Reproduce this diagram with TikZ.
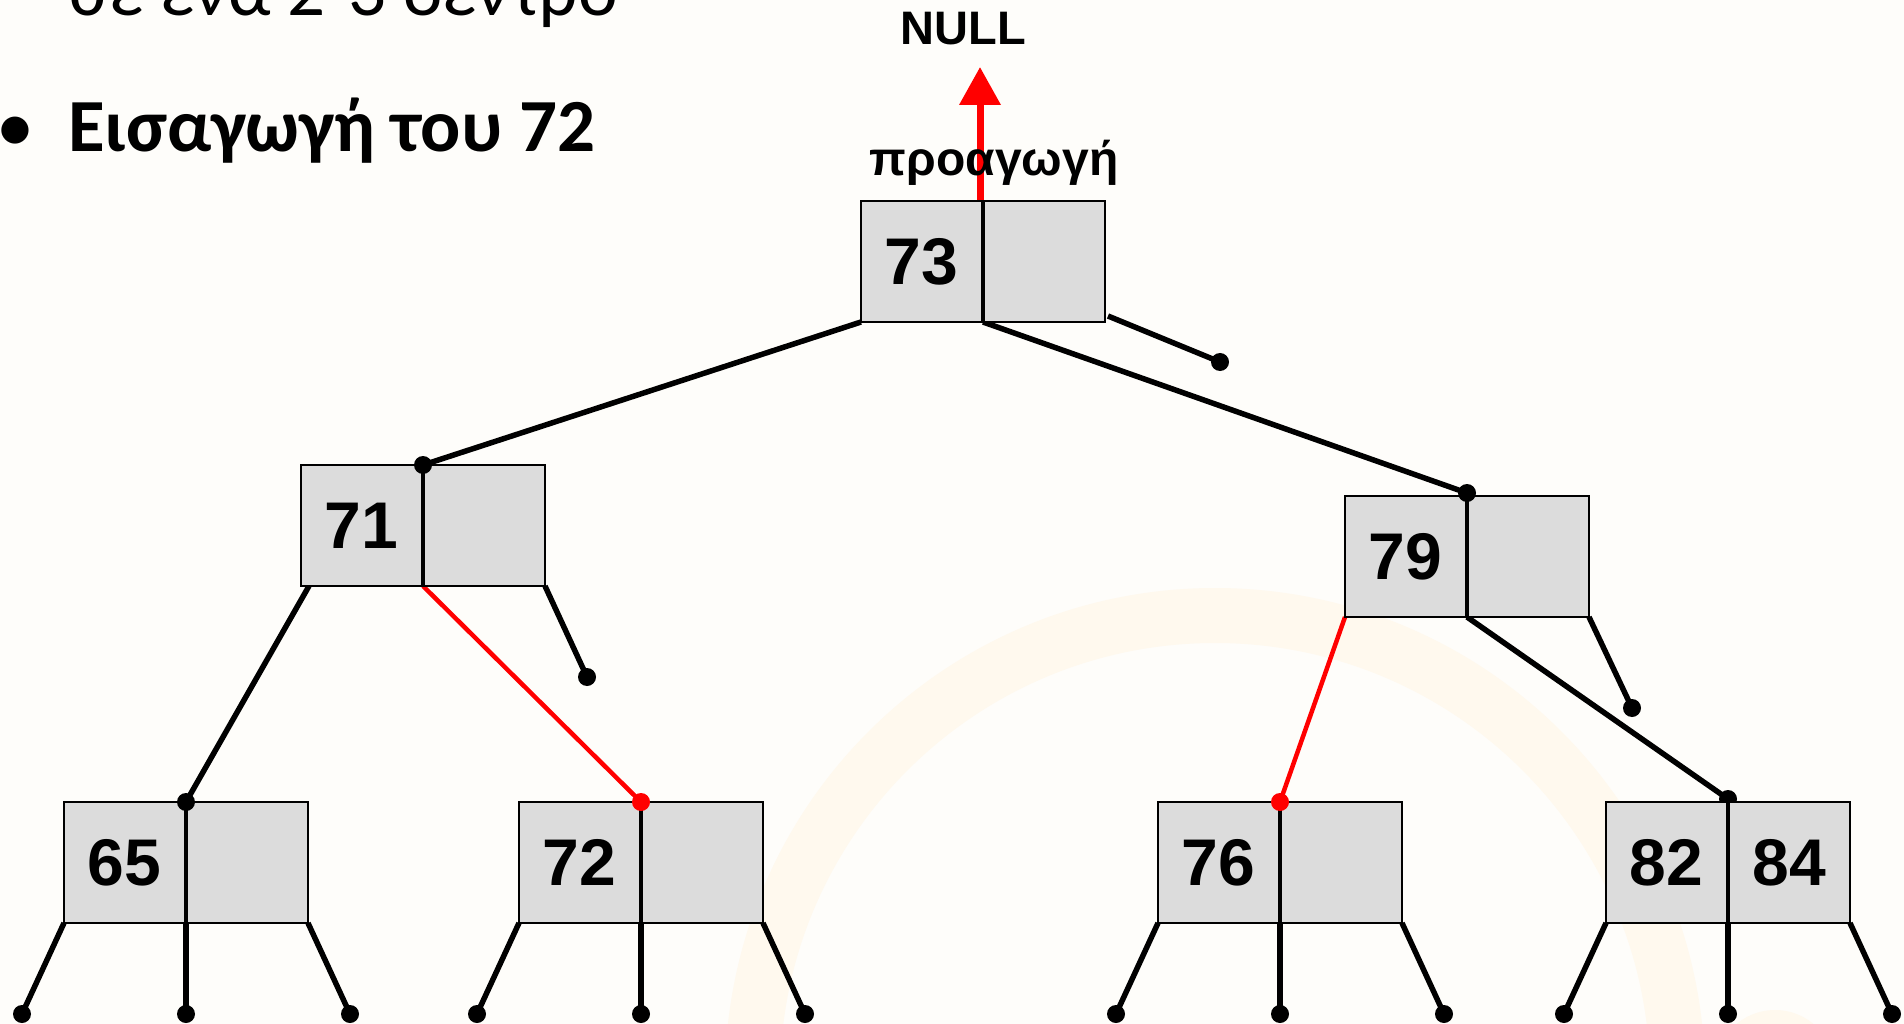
\documentclass[tikz,border=0pt]{standalone}
\usepackage{fontspec}
\setmainfont{Carlito}
\newfontfamily\arialf{Liberation Sans}
\usetikzlibrary{arrows.meta,calc}
\pgfdeclarelayer{back}
\pgfdeclarelayer{edges}
\pgfsetlayers{back,edges,main}
\definecolor{bgc}{RGB}{254,253,250}
\definecolor{arcc}{RGB}{255,249,238}
\definecolor{cellc}{RGB}{220,220,220}
\tikzset{
  cell/.style={draw=black, line width=2pt, fill=cellc, minimum width=121pt, minimum height=121pt,
    inner sep=0pt, outer sep=0pt, anchor=north west, font=\arialf\bfseries\fontsize{66}{66}\selectfont},
  cellr/.style={cell, xshift=2pt},
  edge/.style={line width=5.5pt, black},
  redge/.style={line width=4.5pt, red},
  dot/.style={circle, fill=black, minimum size=18pt, inner sep=0pt, outer sep=0pt},
  rdot/.style={dot, fill=red},
}
\newcommand\mkleaves[1]{%
  \coordinate (#1l1) at ($(#1a.south west)+(-42,91)$);
  \coordinate (#1l2) at ($(#1a.south east)+(1,91)$);
  \coordinate (#1l3) at ($(#1b.south east)+(42,91)$);
  \node[dot] (#1d1) at (#1l1) {};
  \node[dot] (#1d2) at (#1l2) {};
  \node[dot] (#1d3) at (#1l3) {};
  \begin{pgfonlayer}{edges}
    \draw[edge] (#1a.south west) -- (#1d1.center);
    \draw[edge] ([xshift=1pt]#1a.south east) -- (#1d2.center);
    \draw[edge] (#1b.south east) -- (#1d3.center);
  \end{pgfonlayer}
}
\begin{document}
\begin{tikzpicture}[x=1pt,y=-1pt]
\useasboundingbox (0,0) rectangle (1904,1024);
\begin{pgfonlayer}{back}
  \fill[bgc] (0,0) rectangle (1904,1024);
  \begin{scope}
    \clip (0,0) rectangle (1904,1024);
    \fill[arcc, even odd rule] (1215,1078) circle[radius=490pt] (1215,1078) circle[radius=435pt];
    \fill[arcc] (1775,1070) circle[radius=60pt];
  \end{scope}
\end{pgfonlayer}

% texts
\node[anchor=base west, inner sep=0pt, font=\fontsize{75}{90}\selectfont] (sub) at (69,16) {σε ένα 2-3 δέντρο};
\node[anchor=base, inner sep=0pt, font=\bfseries\fontsize{64}{77}\selectfont] (bul) at (15,149) {•};
\node[anchor=base west, inner sep=0pt, font=\bfseries\fontsize{75}{90}\selectfont] (title) at (68,152) {Εισαγωγή του 72};
\node[inner sep=0pt, font=\arialf\bfseries\fontsize{47}{47}\selectfont] (null) at (963.5,28.5) {NULL};

% cells
\node[cell] (n73a) at (861,201) {73};
\node[cellr] (n73b) at (n73a.north east) {};
\node[cell] (n71a) at (301,465) {71};
\node[cellr] (n71b) at (n71a.north east) {};
\node[cell] (n79a) at (1345,496) {79};
\node[cellr] (n79b) at (n79a.north east) {};
\node[cell] (n65a) at (64,802) {65};
\node[cellr] (n65b) at (n65a.north east) {};
\node[cell] (n72a) at (519,802) {72};
\node[cellr] (n72b) at (n72a.north east) {};
\node[cell] (n76a) at (1158,802) {76};
\node[cellr] (n76b) at (n76a.north east) {};
\node[cell] (n82a) at (1606,802) {82};
\node[cellr] (n82b) at (n82a.north east) {84};

% dots
\node[dot] (d71) at ([xshift=1pt]n71a.north east) {};
\node[dot] (d79) at ([xshift=1pt,yshift=3pt]n79a.north east) {};
\node[dot] (d65) at ([xshift=1pt]n65a.north east) {};
\node[rdot] (d72) at ([xshift=1pt]n72a.north east) {};
\node[rdot] (d76) at ([xshift=1pt]n76a.north east) {};
\begin{pgfonlayer}{edges}
  \node[dot] (d82) at ([xshift=1pt,yshift=3pt]n82a.north east) {};
\end{pgfonlayer}
\node[dot] (e73) at (1220,362) {};
\node[dot] (e71) at ($(n71b.south east)+(42,91)$) {};
\node[dot] (e79) at ($(n79b.south east)+(43,91)$) {};
\coordinate (nulltip) at (980,67);

\begin{pgfonlayer}{edges}
  \draw[red, line width=7pt, -{Triangle[width=40pt,length=38pt]}] ([xshift=-2pt]n73a.north east) -- (nulltip);
  \draw[edge] (n73a.south west) -- (d71.center);
  \draw[edge] ([xshift=1pt]n73a.south east) -- (d79.center);
  \draw[edge] ([xshift=3pt,yshift=6pt]n73b.south east) -- (e73.center);
  \draw[edge] ([xshift=8pt]n71a.south west) -- (d65.center);
  \draw[redge] ([xshift=1pt]n71a.south east) -- (d72.center);
  \draw[edge] (n71b.south east) -- (e71.center);
  \draw[redge] (n79a.south west) -- (d76.center);
  \draw[edge] ([xshift=1pt]n79a.south east) -- (d82.center);
  \draw[edge] (n79b.south east) -- (e79.center);
\end{pgfonlayer}

\node[anchor=base, inner sep=0pt, font=\arialf\bfseries\fontsize{48}{48}\selectfont] (prom) at (994,176) {προαγωγή};

\mkleaves{n65}
\mkleaves{n72}
\mkleaves{n76}
\mkleaves{n82}
\end{tikzpicture}
\end{document}
